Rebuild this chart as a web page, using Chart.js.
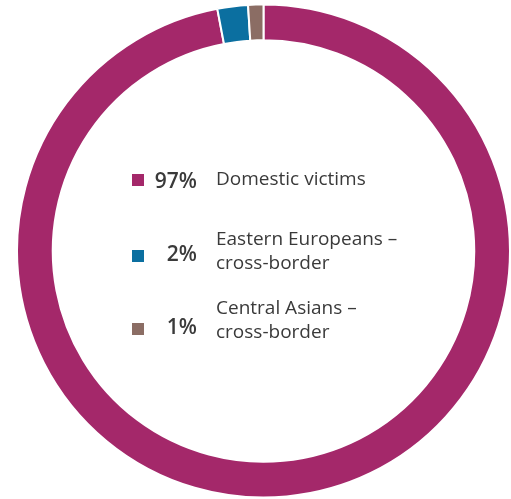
<!DOCTYPE html>
<html>
<head>
<meta charset="utf-8">
<script src="https://cdn.jsdelivr.net/npm/chart.js@4"></script>
<style>
  html, body { margin: 0; padding: 0; background: #fff; }
  #wrap { position: relative; width: 511px; height: 499px; }
  #legend { position: absolute; left: 0; top: 0; width: 511px; height: 499px; pointer-events: none;
    font-family: "Open Sans", "Noto Sans", sans-serif; color: #3a3a3a; font-size: 19px; line-height: 24px; }
  .sw { position: absolute; left: 132px; width: 12px; height: 12px; }
  .pct { position: absolute; width: 65px; left: 132px; text-align: right; font-weight: 600; font-size: 21px; }
  .lbl { position: absolute; left: 216px; white-space: nowrap; }
</style>
</head>
<body>
<div id="wrap">
  <canvas id="donut"></canvas>
  <div id="legend"></div>
</div>
<script>
document.addEventListener('DOMContentLoaded', function() {

    // --- Data ---
    const categories = ['Domestic victims', 'Eastern Europeans –\ncross-border', 'Central Asians –\ncross-border'];
    const shares = [97, 2, 1];
    const colours = ['#A4286A', '#0B6FA0', '#8B6D64'];

    // --- Legend in the middle (HTML overlay) ---
    const legend = document.getElementById('legend');
    const labelTops = [166, 226, 295];
    const swatchTops = [174, 250, 323];
    const pctTops = [168, 241, 314];
    categories.forEach((cat, i) => {
        legend.insertAdjacentHTML('beforeend',
            `<div class="sw" style="background:${colours[i]};top:${swatchTops[i]}px"></div>` +
            `<div class="pct" style="top:${pctTops[i]}px">${shares[i]}%</div>` +
            `<div class="lbl" style="top:${labelTops[i]}px">${cat.split('\n').join('<br>')}</div>`);
    });

    // --- Chart.js doughnut ---
    const ctx = document.getElementById('donut');
    new Chart(ctx.getContext('2d'), {
        type: 'doughnut',
        data: {
            labels: categories,
            datasets: [{
                data: shares,
                backgroundColor: colours,
                borderColor: '#ffffff',
                borderWidth: 2
            }]
        },
        options: {
            responsive: true,
            maintainAspectRatio: false,
            animation: false,
            cutout: '85.5%',
            layout: { padding: { left: 16, top: 3, right: 0, bottom: 0 } },
            plugins: {
                legend: { display: false },
                tooltip: { enabled: false }
            }
        }
    });
});
</script>
</body>
</html>
